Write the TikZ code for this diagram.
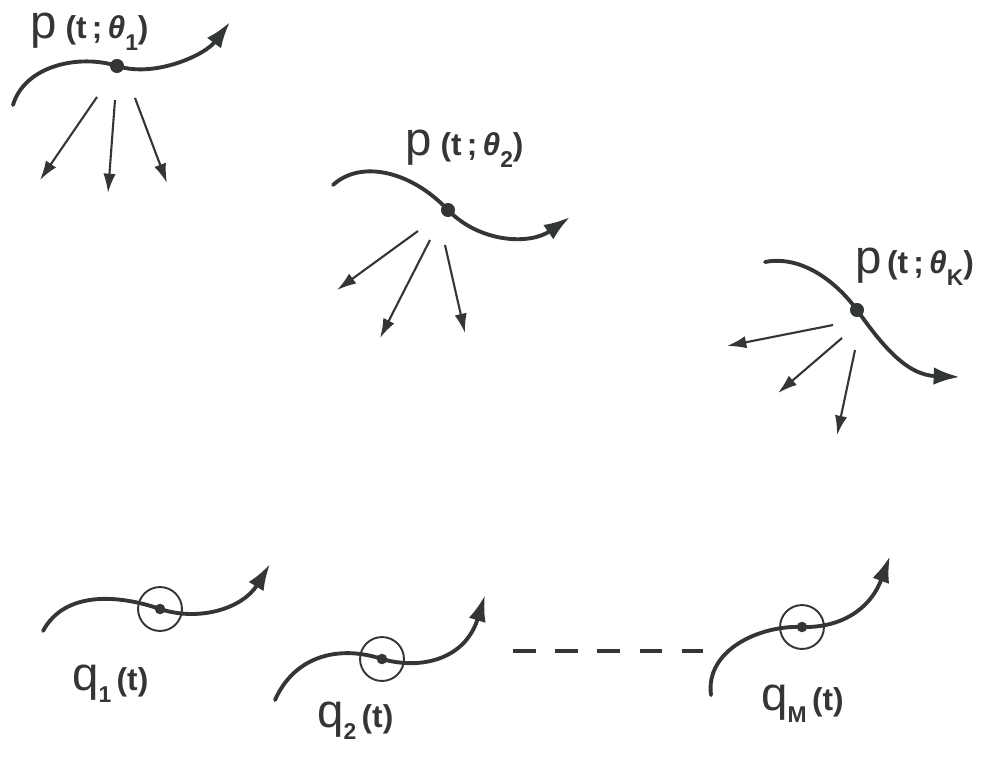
\documentclass[tikz,border=0pt]{standalone}
\usepackage{fontspec}
\setmainfont{Liberation Sans}
\usetikzlibrary{arrows.meta}
\definecolor{ink}{RGB}{50,54,54}
\tikzset{
	traj/.style={ink, line width=2.2pt, line cap=round, -{Latex[length=15pt,width=10pt]}},
	ray/.style={ink, line width=1.2pt, -{Latex[length=11pt,width=7pt]}},
	dotn/.style={circle, fill=ink, inner sep=0pt, minimum size=8pt},
	ring/.style={circle, draw=ink, line width=1.1pt, inner sep=0pt, minimum size=25pt},
	lab/.style={text=ink, inner sep=0pt, anchor=base west, font=\fontsize{18}{18}\selectfont\bfseries},
}
\newcommand{\bigch}[1]{{\fontsize{27}{27}\selectfont\mdseries #1}}
\newcommand{\lowsub}[1]{\raisebox{-7pt}{\fontsize{13}{13}\selectfont #1}}

\begin{document}
\begin{tikzpicture}[x=0.02cm, y=-0.02cm]
	\useasboundingbox (0,0) rectangle (996,761);
	
	\node[dotn] (P1) at (117,66) {};
	\node[dotn] (P2) at (448,210) {};
	\node[dotn] (PK) at (857,310) {};
	
	\node[lab] (L1) at (30,38) {\bigch{p}\;(t\,;\,\textit{θ}\lowsub{1})};
	\node[lab] (L2) at (405,155) {\bigch{p}\;(t\,;\,\textit{θ}\lowsub{2})};
	\node[lab] (LK) at (855,273) {\bigch{p}\,(t\,;\,\textit{θ}\lowsub{K})};
	
	\draw[traj] (13,105) .. controls (25,65) and (80,54) .. (P1.center) .. controls (155,78) and (205,55) .. (230,22);
	\draw[traj] (333,185) .. controls (360,160) and (410,170) .. (P2.center) .. controls (480,243) and (530,245) .. (570,217);
	\draw[traj] (765,262) .. controls (800,255) and (835,280) .. (PK.center) .. controls (880,342) and (905,375) .. (960,377);
	
	\draw[ray] (97,97) -- (40,180);
	\draw[ray] (115,100) -- (108,193);
	\draw[ray] (135,98) -- (167,183);
	
	\draw[ray] (418,231) -- (337,290);
	\draw[ray] (430,240) -- (380,338);
	\draw[ray] (445,245) -- (465,333);
	
	\draw[ray] (833,325) -- (727,346);
	\draw[ray] (842,338) -- (778,393);
	\draw[ray] (855,350) -- (837,435);
	
	\node[dotn, minimum size=6pt] (Q1) at (160,609) {};
	\node[dotn, minimum size=6pt] (Q2) at (382,659) {};
	\node[dotn, minimum size=6pt] (QM) at (802,627) {};
	\node[ring] (R1) at (Q1) {};
	\node[ring] (R2) at (Q2) {};
	\node[ring] (RM) at (QM) {};
	
	\draw[traj] (43,631) .. controls (65,590) and (120,595) .. (Q1.center) .. controls (200,622) and (243,608) .. (270,564);
	\draw[traj] (275,700) .. controls (295,655) and (340,645) .. (Q2.center) .. controls (420,670) and (465,660) .. (485,595);
	\draw[traj] (711,695) .. controls (705,650) and (760,625) .. (QM.center) .. controls (840,628) and (870,610) .. (890,556);
	
	\node[lab] (M1) at (72,690) {\bigch{q}\lowsub{1}\,(t)};
	\node[lab] (M2) at (317,727) {\bigch{q}\lowsub{2}\,(t)};
	\node[lab] (MM) at (761,710) {\bigch{q}\lowsub{M}\,(t)};
	
	\coordinate (gapL) at (513,651);
	\coordinate (gapR) at (703,651);
	\draw[ink, line width=1.9pt, dash pattern=on 13pt off 11pt] (gapL) -- (gapR);
\end{tikzpicture}
\end{document}
